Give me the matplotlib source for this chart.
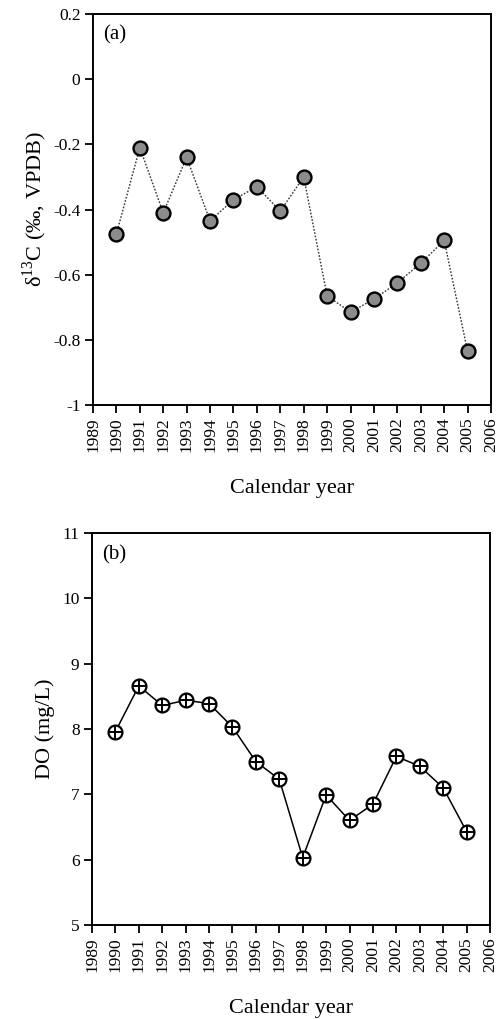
import matplotlib

matplotlib.use("Agg")
import matplotlib.pyplot as plt

plt.rcParams["font.family"] = ["Liberation Serif", "DejaVu Serif"]
plt.rcParams["mathtext.fontset"] = "custom"
plt.rcParams["mathtext.rm"] = "Liberation Serif"

years = list(range(1990, 2006))
d13c = [-0.475, -0.21, -0.41, -0.24, -0.435, -0.37, -0.33, -0.405,
        -0.30, -0.665, -0.715, -0.675, -0.625, -0.565, -0.495, -0.835]
do_mgl = [7.96, 8.66, 8.36, 8.44, 8.39, 8.03, 7.50, 7.23,
          6.03, 6.99, 6.60, 6.85, 7.58, 7.43, 7.10, 6.43]

year_ticks = list(range(1989, 2007))
d13c_ticks = [0.2, 0, -0.2, -0.4, -0.6, -0.8, -1]
do_ticks = [5, 6, 7, 8, 9, 10, 11]

fig = plt.figure(figsize=(5.0, 10.19), dpi=100)
W, H = 500, 1019
# axes boxes in pixel coordinates: left, top, right, bottom
ax_a = fig.add_axes([93 / W, 1 - 405 / H, (491 - 93) / W, (405 - 14) / H])
ax_b = fig.add_axes([92 / W, 1 - 925 / H, (490 - 92) / W, (925 - 533) / H])


def style_axes(ax):
    for s in ax.spines.values():
        s.set_linewidth(1.4)
    ax.set_xlim(1989, 2006)
    ax.set_xticks(year_ticks)
    ax.set_xticklabels([str(y) for y in year_ticks], rotation=90, fontsize=12.5)
    ax.tick_params(direction="out", length=6, width=1.3, labelsize=12.5, pad=3)
    ax.set_xlabel("Calendar year", fontsize=16, labelpad=19)


# (a) carbon isotope record
ax_a.plot(years, d13c, ls=(0, (1.2, 1.2)), lw=1.0, color="#333333",
          marker="o", ms=10, mfc="#8c8c8c", mec="black", mew=1.7)
ax_a.set_ylim(-1, 0.2)
ax_a.set_yticks(d13c_ticks)
ax_a.set_yticklabels(["0.2", "0", "-0.2", "-0.4", "-0.6", "-0.8", "-1"])
style_axes(ax_a)
ax_a.set_ylabel("δ$^{13}$C (‰, VPDB)", fontsize=16, labelpad=3)
ax_a.text(0.025, 0.97, "(a)", transform=ax_a.transAxes, fontsize=15,
          va="top", ha="left")

# (b) dissolved oxygen
ax_b.plot(years, do_mgl, ls="-", lw=1.1, color="black",
          marker="o", ms=10, mfc="white", mec="black", mew=1.6, zorder=3)
ax_b.plot(years, do_mgl, ls="none", marker="+", ms=10, mec="black",
          mew=1.4, zorder=4)
ax_b.set_ylim(5, 11)
ax_b.set_yticks(do_ticks)
style_axes(ax_b)
ax_b.set_ylabel("DO (mg/L)", fontsize=16, labelpad=5)
ax_b.text(0.025, 0.97, "(b)", transform=ax_b.transAxes, fontsize=15,
          va="top", ha="left")

fig.savefig("out.png", dpi=100)
